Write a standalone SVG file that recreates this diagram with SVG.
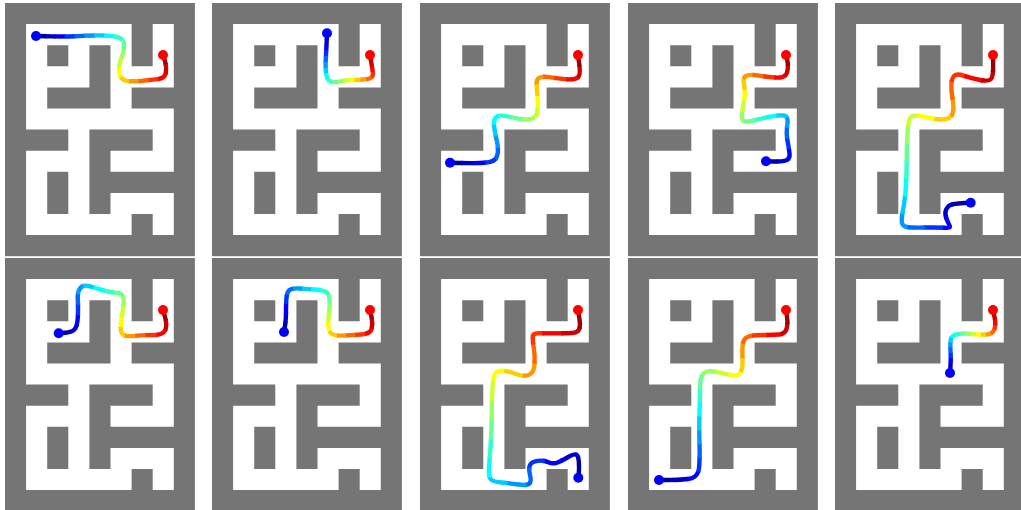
<svg xmlns="http://www.w3.org/2000/svg" width="1021" height="510" viewBox="0 0 1021 510">
<style>
.tr use{fill:none;stroke-width:4.4px;stroke-linejoin:round;stroke-linecap:butt;stroke-dasharray:1.1px 40px}
.s0{stroke:#000099;stroke-dashoffset:0px}
.s1{stroke:#0000cc;stroke-dashoffset:-1px}
.s2{stroke:#0000ff;stroke-dashoffset:-2px}
.s3{stroke:#0033ff;stroke-dashoffset:-3px}
.s4{stroke:#0066ff;stroke-dashoffset:-4px}
.s5{stroke:#0099ff;stroke-dashoffset:-5px}
.s6{stroke:#00ccff;stroke-dashoffset:-6px}
.s7{stroke:#00ffff;stroke-dashoffset:-7px}
.s8{stroke:#33ffcc;stroke-dashoffset:-8px}
.s9{stroke:#66ff99;stroke-dashoffset:-9px}
.s10{stroke:#99ff66;stroke-dashoffset:-10px}
.s11{stroke:#ccff33;stroke-dashoffset:-11px}
.s12{stroke:#ffff00;stroke-dashoffset:-12px}
.s13{stroke:#ffcc00;stroke-dashoffset:-13px}
.s14{stroke:#ff9900;stroke-dashoffset:-14px}
.s15{stroke:#ff6600;stroke-dashoffset:-15px}
.s16{stroke:#ff3300;stroke-dashoffset:-16px}
.s17{stroke:#ff0000;stroke-dashoffset:-17px}
.s18{stroke:#cc0000;stroke-dashoffset:-18px}
.s19{stroke:#990000;stroke-dashoffset:-19px}
.start{fill:#0000ff}
.goal{fill:#ff0000}
.wall{fill:#757575}
.open{fill:#ffffff}
</style>
<defs>
<g id="maze">
<rect class="wall" x="0" y="0" width="189.9" height="253.2"/>
<path class="open" d="M21.1 21.1h105.5v21.1h-105.5z M147.7 21.1h21.1v21.1h-21.1z M21.1 42.2h21.1v21.1h-21.1z M63.3 42.2h21.1v21.1h-21.1z M105.5 42.2h21.1v21.1h-21.1z M147.7 42.2h21.1v21.1h-21.1z M21.1 63.3h63.3v21.1h-63.3z M105.5 63.3h63.3v21.1h-63.3z M21.1 84.4h21.1v21.1h-21.1z M105.5 84.4h21.1v21.1h-21.1z M21.1 105.5h147.7v21.1h-147.7z M63.3 126.6h21.1v21.1h-21.1z M147.7 126.6h21.1v21.1h-21.1z M21.1 147.7h63.3v21.1h-63.3z M105.5 147.7h63.3v21.1h-63.3z M21.1 168.8h21.1v21.1h-21.1z M63.3 168.8h21.1v21.1h-21.1z M21.1 189.9h21.1v21.1h-21.1z M63.3 189.9h21.1v21.1h-21.1z M105.5 189.9h63.3v21.1h-63.3z M21.1 211h105.5v21.1h-105.5z M147.7 211h21.1v21.1h-21.1z"/>
</g>
<path id="p1" pathLength="20" d="M31 33 L46.35 33.35 Q61.7 33.7 78.35 32.85 Q95 32 105 32.85 Q115 33.7 117.5 37 Q120 40.3 118.85 46.15 Q117.7 52 115.5 57.85 Q113.3 63.7 114.5 70.35 Q115.7 77 122 77.85 Q128.3 78.7 136.65 77.85 Q145 77 152.5 76.15 Q160 75.3 160.85 69.5 Q161.7 63.7 159.85 57.85 L158 52"/>
<path id="p2" pathLength="20" d="M115 30.3 L114.65 38.65 Q114.3 47 113.8 55.35 Q113.3 63.7 114.15 70.35 Q115 77 118.35 78.35 Q121.7 79.7 128.35 78.35 Q135 77 141.65 77 Q148.3 77 155 76.15 Q161.7 75.3 160.85 69.5 Q160 63.7 159 57.85 L158 52"/>
<path id="p3" pathLength="20" d="M30 159.7 L40 160 Q50 160.3 60 160 Q70 159.7 73.65 157.5 Q77.3 155.3 77.8 149.5 Q78.3 143.7 76.65 137 Q75 130.3 74.15 123.65 Q73.3 117 75.8 114.5 Q78.3 112 84.15 112.85 Q90 113.7 96.65 115.35 Q103.3 117 109.65 116.15 Q116 115.3 117.15 109.5 Q118.3 103.7 117.8 97 Q117.3 90.3 116.65 83.65 Q116 77 118.85 75 Q121.7 73 129.2 74.15 Q136.7 75.3 145.85 76.15 Q155 77 157.85 74.5 Q160.7 72 159.35 62 L158 52"/>
<path id="p4" pathLength="20" d="M138 158.3 L144.35 158.5 Q150.7 158.7 156.5 157.85 Q162.3 157 161.5 150.35 Q160.7 143.7 159.35 137 Q158 130.3 159.35 121.65 Q160.7 113 155.7 112.5 Q150.7 112 142.35 113.65 Q134 115.3 125.65 117.5 Q117.3 119.7 115.15 117.5 Q113 115.3 114.35 107.8 Q115.7 100.3 116.5 93.65 Q117.3 87 116 81.15 Q114.7 75.3 117.7 73.15 Q120.7 71 129 72.35 Q137.3 73.7 147.3 74.5 Q157.3 75.3 159 69.5 Q160.7 63.7 159.35 57.85 L158 52"/>
<path id="p5" pathLength="20" d="M135.7 199.7 L129.5 200 Q123.3 200.3 118.3 201.15 Q113.3 202 111.3 206.15 Q109.3 210.3 111.3 215.3 Q113.3 220.3 114.65 222.8 Q116 225.3 109.65 224.8 Q103.3 224.3 93.3 224.5 Q83.3 224.7 75.8 224.5 Q68.3 224.3 67.15 220.65 Q66 217 68 207 Q70 197 70.85 183.65 Q71.7 170.3 71.7 157 Q71.7 143.7 72.5 130.35 Q73.3 117 75.3 114.5 Q77.3 112 83.65 112.85 Q90 113.7 96.65 115.35 Q103.3 117 110 116.15 Q116.7 115.3 117.85 109.5 Q119 103.7 117.5 95.35 Q116 87 116.35 81.15 Q116.7 75.3 119.2 72.8 Q121.7 70.3 129.2 72.8 Q136.7 75.3 145 77 Q153.3 78.7 155.8 76.2 Q158.3 73.7 158.15 62.85 L158 52"/>
<path id="p6" pathLength="20" d="M53.7 75.3 L60.2 74.8 Q66.7 74.3 69.5 71.5 Q72.3 68.7 72.8 59.5 Q73.3 50.3 72.8 42 Q72.3 33.7 75.3 30 Q78.3 26.3 85 28.3 Q91.7 30.3 98.35 32.3 Q105 34.3 111.65 34.8 Q118.3 35.3 118.65 41.15 Q119 47 117.35 55.35 Q115.7 63.7 115.7 69.5 Q115.7 75.3 118.7 77 Q121.7 78.7 130 77.85 Q138.3 77 148.3 77 Q158.3 77 160.3 72 Q162.3 67 160.15 59.5 L158 52"/>
<path id="p7" pathLength="20" d="M72 74 L73 68 Q74 62 74 53.5 Q74 45 74.5 39.5 Q75 34 77.5 32 Q80 30 87.5 30.5 Q95 31 102.5 31.5 Q110 32 113.5 33.5 Q117 35 117.5 41.5 Q118 48 117 55.5 Q116 63 116.5 69 Q117 75 121 76.5 Q125 78 132.5 77.5 Q140 77 149 76.5 Q158 76 159.5 71 Q161 66 159.5 59 L158 52"/>
<path id="p8" pathLength="20" d="M158.3 219.7 L158.8 215 Q159.3 210.3 158.8 203.65 Q158.3 197 155.8 196.5 Q153.3 196 148.3 199 Q143.3 202 138.3 204.15 Q133.3 206.3 128.3 204.15 Q123.3 202 117.5 202.85 Q111.7 203.7 110 207 Q108.3 210.3 110 217 Q111.7 223.7 109.2 225.7 Q106.7 227.7 98.35 226.5 Q90 225.3 81.65 224.5 Q73.3 223.7 70.8 221.2 Q68.3 218.7 69.15 207.85 Q70 197 70.85 183.65 Q71.7 170.3 71.7 157 Q71.7 143.7 72.5 130.35 Q73.3 117 75.8 114.5 Q78.3 112 84.15 112.85 Q90 113.7 96.65 116.2 Q103.3 118.7 108.65 117 Q114 115.3 114.5 106.15 Q115 97 113.85 90.35 Q112.7 83.7 112.7 79.5 Q112.7 75.3 118 75.3 Q123.3 75.3 131.65 75.3 Q140 75.3 148.35 75.3 Q156.7 75.3 158.7 72 Q160.7 68.7 159.35 60.35 L158 52"/>
<path id="p9" pathLength="20" d="M31 222 L40.5 222 Q50 222 60 221 Q70 220 71 210 Q72 200 71.5 185 Q71 170 71.5 155 Q72 140 72 130 Q72 120 75 116 Q78 112 86.5 113.5 Q95 115 102.5 117 Q110 119 112.5 114.5 Q115 110 114.5 100 Q114 90 115 85 Q116 80 120.5 78.5 Q125 77 135 77 Q145 77 151 76.5 Q157 76 158.5 71 Q160 66 159 59 L158 52"/>
<path id="p10" pathLength="20" d="M115 115 L115.5 107.5 Q116 100 115.5 92.5 Q115 85 116 81 Q117 77 123.5 76 Q130 75 137.5 76 Q145 77 151.5 76.5 Q158 76 159.5 71 Q161 66 159.5 59 L158 52"/>
</defs>

<g id="panel-1" transform="translate(5,3)">
<use href="#maze"/>
<g class="tr"><use href="#p1" class="s0"/><use href="#p1" class="s1"/><use href="#p1" class="s2"/><use href="#p1" class="s3"/><use href="#p1" class="s4"/><use href="#p1" class="s5"/><use href="#p1" class="s6"/><use href="#p1" class="s7"/><use href="#p1" class="s8"/><use href="#p1" class="s9"/><use href="#p1" class="s10"/><use href="#p1" class="s11"/><use href="#p1" class="s12"/><use href="#p1" class="s13"/><use href="#p1" class="s14"/><use href="#p1" class="s15"/><use href="#p1" class="s16"/><use href="#p1" class="s17"/><use href="#p1" class="s18"/><use href="#p1" class="s19"/></g>
<circle class="start" cx="31" cy="33" r="5"/>
<circle class="goal" cx="158" cy="52" r="5"/>
</g>

<g id="panel-2" transform="translate(212,3)">
<use href="#maze"/>
<g class="tr"><use href="#p2" class="s0"/><use href="#p2" class="s1"/><use href="#p2" class="s2"/><use href="#p2" class="s3"/><use href="#p2" class="s4"/><use href="#p2" class="s5"/><use href="#p2" class="s6"/><use href="#p2" class="s7"/><use href="#p2" class="s8"/><use href="#p2" class="s9"/><use href="#p2" class="s10"/><use href="#p2" class="s11"/><use href="#p2" class="s12"/><use href="#p2" class="s13"/><use href="#p2" class="s14"/><use href="#p2" class="s15"/><use href="#p2" class="s16"/><use href="#p2" class="s17"/><use href="#p2" class="s18"/><use href="#p2" class="s19"/></g>
<circle class="start" cx="115" cy="30.3" r="5"/>
<circle class="goal" cx="158" cy="52" r="5"/>
</g>

<g id="panel-3" transform="translate(420,3)">
<use href="#maze"/>
<g class="tr"><use href="#p3" class="s0"/><use href="#p3" class="s1"/><use href="#p3" class="s2"/><use href="#p3" class="s3"/><use href="#p3" class="s4"/><use href="#p3" class="s5"/><use href="#p3" class="s6"/><use href="#p3" class="s7"/><use href="#p3" class="s8"/><use href="#p3" class="s9"/><use href="#p3" class="s10"/><use href="#p3" class="s11"/><use href="#p3" class="s12"/><use href="#p3" class="s13"/><use href="#p3" class="s14"/><use href="#p3" class="s15"/><use href="#p3" class="s16"/><use href="#p3" class="s17"/><use href="#p3" class="s18"/><use href="#p3" class="s19"/></g>
<circle class="start" cx="30" cy="159.7" r="5"/>
<circle class="goal" cx="158" cy="52" r="5"/>
</g>

<g id="panel-4" transform="translate(628,3)">
<use href="#maze"/>
<g class="tr"><use href="#p4" class="s0"/><use href="#p4" class="s1"/><use href="#p4" class="s2"/><use href="#p4" class="s3"/><use href="#p4" class="s4"/><use href="#p4" class="s5"/><use href="#p4" class="s6"/><use href="#p4" class="s7"/><use href="#p4" class="s8"/><use href="#p4" class="s9"/><use href="#p4" class="s10"/><use href="#p4" class="s11"/><use href="#p4" class="s12"/><use href="#p4" class="s13"/><use href="#p4" class="s14"/><use href="#p4" class="s15"/><use href="#p4" class="s16"/><use href="#p4" class="s17"/><use href="#p4" class="s18"/><use href="#p4" class="s19"/></g>
<circle class="start" cx="138" cy="158.3" r="5"/>
<circle class="goal" cx="158" cy="52" r="5"/>
</g>

<g id="panel-5" transform="translate(835,3)">
<use href="#maze"/>
<g class="tr"><use href="#p5" class="s0"/><use href="#p5" class="s1"/><use href="#p5" class="s2"/><use href="#p5" class="s3"/><use href="#p5" class="s4"/><use href="#p5" class="s5"/><use href="#p5" class="s6"/><use href="#p5" class="s7"/><use href="#p5" class="s8"/><use href="#p5" class="s9"/><use href="#p5" class="s10"/><use href="#p5" class="s11"/><use href="#p5" class="s12"/><use href="#p5" class="s13"/><use href="#p5" class="s14"/><use href="#p5" class="s15"/><use href="#p5" class="s16"/><use href="#p5" class="s17"/><use href="#p5" class="s18"/><use href="#p5" class="s19"/></g>
<circle class="start" cx="135.7" cy="199.7" r="5"/>
<circle class="goal" cx="158" cy="52" r="5"/>
</g>

<g id="panel-6" transform="translate(5,258)">
<use href="#maze"/>
<g class="tr"><use href="#p6" class="s0"/><use href="#p6" class="s1"/><use href="#p6" class="s2"/><use href="#p6" class="s3"/><use href="#p6" class="s4"/><use href="#p6" class="s5"/><use href="#p6" class="s6"/><use href="#p6" class="s7"/><use href="#p6" class="s8"/><use href="#p6" class="s9"/><use href="#p6" class="s10"/><use href="#p6" class="s11"/><use href="#p6" class="s12"/><use href="#p6" class="s13"/><use href="#p6" class="s14"/><use href="#p6" class="s15"/><use href="#p6" class="s16"/><use href="#p6" class="s17"/><use href="#p6" class="s18"/><use href="#p6" class="s19"/></g>
<circle class="start" cx="53.7" cy="75.3" r="5"/>
<circle class="goal" cx="158" cy="52" r="5"/>
</g>

<g id="panel-7" transform="translate(212,258)">
<use href="#maze"/>
<g class="tr"><use href="#p7" class="s0"/><use href="#p7" class="s1"/><use href="#p7" class="s2"/><use href="#p7" class="s3"/><use href="#p7" class="s4"/><use href="#p7" class="s5"/><use href="#p7" class="s6"/><use href="#p7" class="s7"/><use href="#p7" class="s8"/><use href="#p7" class="s9"/><use href="#p7" class="s10"/><use href="#p7" class="s11"/><use href="#p7" class="s12"/><use href="#p7" class="s13"/><use href="#p7" class="s14"/><use href="#p7" class="s15"/><use href="#p7" class="s16"/><use href="#p7" class="s17"/><use href="#p7" class="s18"/><use href="#p7" class="s19"/></g>
<circle class="start" cx="72" cy="74" r="5"/>
<circle class="goal" cx="158" cy="52" r="5"/>
</g>

<g id="panel-8" transform="translate(420,258)">
<use href="#maze"/>
<g class="tr"><use href="#p8" class="s0"/><use href="#p8" class="s1"/><use href="#p8" class="s2"/><use href="#p8" class="s3"/><use href="#p8" class="s4"/><use href="#p8" class="s5"/><use href="#p8" class="s6"/><use href="#p8" class="s7"/><use href="#p8" class="s8"/><use href="#p8" class="s9"/><use href="#p8" class="s10"/><use href="#p8" class="s11"/><use href="#p8" class="s12"/><use href="#p8" class="s13"/><use href="#p8" class="s14"/><use href="#p8" class="s15"/><use href="#p8" class="s16"/><use href="#p8" class="s17"/><use href="#p8" class="s18"/><use href="#p8" class="s19"/></g>
<circle class="start" cx="158.3" cy="219.7" r="5"/>
<circle class="goal" cx="158" cy="52" r="5"/>
</g>

<g id="panel-9" transform="translate(628,258)">
<use href="#maze"/>
<g class="tr"><use href="#p9" class="s0"/><use href="#p9" class="s1"/><use href="#p9" class="s2"/><use href="#p9" class="s3"/><use href="#p9" class="s4"/><use href="#p9" class="s5"/><use href="#p9" class="s6"/><use href="#p9" class="s7"/><use href="#p9" class="s8"/><use href="#p9" class="s9"/><use href="#p9" class="s10"/><use href="#p9" class="s11"/><use href="#p9" class="s12"/><use href="#p9" class="s13"/><use href="#p9" class="s14"/><use href="#p9" class="s15"/><use href="#p9" class="s16"/><use href="#p9" class="s17"/><use href="#p9" class="s18"/><use href="#p9" class="s19"/></g>
<circle class="start" cx="31" cy="222" r="5"/>
<circle class="goal" cx="158" cy="52" r="5"/>
</g>

<g id="panel-10" transform="translate(835,258)">
<use href="#maze"/>
<g class="tr"><use href="#p10" class="s0"/><use href="#p10" class="s1"/><use href="#p10" class="s2"/><use href="#p10" class="s3"/><use href="#p10" class="s4"/><use href="#p10" class="s5"/><use href="#p10" class="s6"/><use href="#p10" class="s7"/><use href="#p10" class="s8"/><use href="#p10" class="s9"/><use href="#p10" class="s10"/><use href="#p10" class="s11"/><use href="#p10" class="s12"/><use href="#p10" class="s13"/><use href="#p10" class="s14"/><use href="#p10" class="s15"/><use href="#p10" class="s16"/><use href="#p10" class="s17"/><use href="#p10" class="s18"/><use href="#p10" class="s19"/></g>
<circle class="start" cx="115" cy="115" r="5"/>
<circle class="goal" cx="158" cy="52" r="5"/>
</g>
</svg>
